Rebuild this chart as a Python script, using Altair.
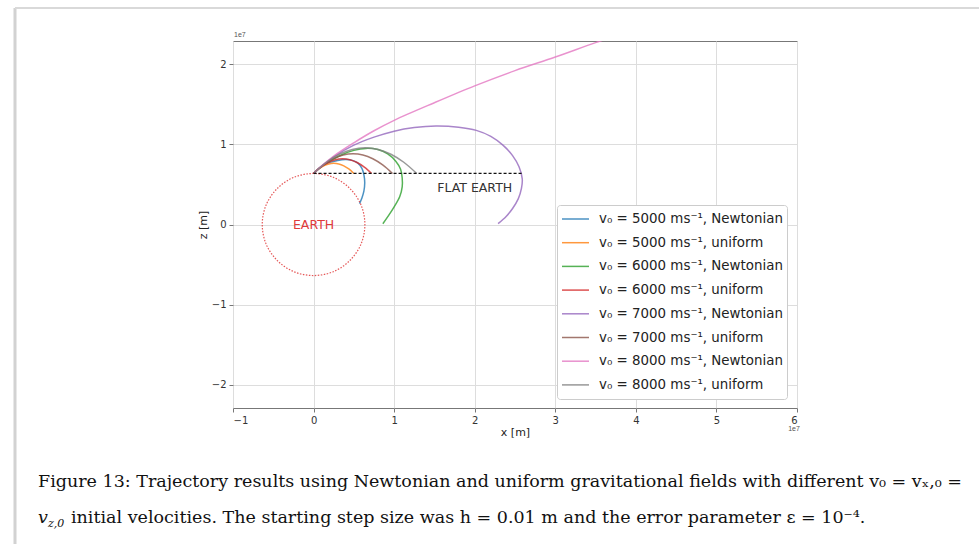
import altair as alt
import pandas as pd

# ---- data (positions in units of 1e7 m) ----
labels = [
    "v₀ = 5000 ms⁻¹, Newtonian",
    "v₀ = 5000 ms⁻¹, uniform",
    "v₀ = 6000 ms⁻¹, Newtonian",
    "v₀ = 6000 ms⁻¹, uniform",
    "v₀ = 7000 ms⁻¹, Newtonian",
    "v₀ = 7000 ms⁻¹, uniform",
    "v₀ = 8000 ms⁻¹, Newtonian",
    "v₀ = 8000 ms⁻¹, uniform",
]
colors = ["#1f77b4", "#ff7f0e", "#2ca02c", "#d62728",
          "#9467bd", "#8c564b", "#e377c2", "#7f7f7f"]

n5000_x = [0, 0.1, 0.2, 0.3, 0.4, 0.48, 0.55, 0.60, 0.625, 0.635, 0.625, 0.60, 0.57]
n5000_z = [0.637, 0.725, 0.775, 0.80, 0.81, 0.80, 0.765, 0.70, 0.62, 0.52, 0.42, 0.33, 0.26]
u5000_x = [0, 0.0625, 0.125, 0.1875, 0.25, 0.3125, 0.375, 0.4375, 0.5]
u5000_z = [0.637, 0.693, 0.732, 0.756, 0.764, 0.756, 0.732, 0.693, 0.637]
n6000_x = [0, 0.1, 0.2, 0.35, 0.5, 0.65, 0.8, 0.92, 1.02, 1.08, 1.10, 1.10, 1.07, 1.0, 0.93, 0.86]
n6000_z = [0.637, 0.725, 0.79, 0.87, 0.925, 0.95, 0.935, 0.88, 0.79, 0.69, 0.58, 0.47, 0.35, 0.22, 0.11, 0.01]
u6000_x = [0, 0.09, 0.18, 0.27, 0.36, 0.45, 0.54, 0.63, 0.72]
u6000_z = [0.637, 0.717, 0.774, 0.809, 0.820, 0.809, 0.774, 0.717, 0.637]
n7000_x = [0, 0.1, 0.25, 0.5, 0.75, 1.0, 1.25, 1.52, 1.8, 2.02, 2.2, 2.35, 2.47, 2.55, 2.59,
           2.58, 2.54, 2.47, 2.39, 2.29]
n7000_z = [0.637, 0.73, 0.845, 0.99, 1.09, 1.165, 1.21, 1.23, 1.215, 1.175, 1.10, 0.99, 0.86,
           0.72, 0.57, 0.45, 0.32, 0.20, 0.10, 0.01]
u7000_x = [0, 0.1225, 0.245, 0.3675, 0.49, 0.6125, 0.735, 0.8575, 0.98]
u7000_z = [0.637, 0.744, 0.821, 0.867, 0.882, 0.867, 0.821, 0.744, 0.637]
n8000_x = [0, 0.1, 0.25, 0.5, 0.75, 1.0, 1.5, 2.0, 2.5, 3.0, 3.5, 3.8]
n8000_z = [0.637, 0.732, 0.855, 1.02, 1.17, 1.30, 1.52, 1.73, 1.92, 2.09, 2.27, 2.37]
u8000_x = [0, 0.16, 0.32, 0.48, 0.64, 0.80, 0.96, 1.12, 1.28]
u8000_z = [0.637, 0.777, 0.877, 0.937, 0.957, 0.937, 0.877, 0.777, 0.637]

earth_x = [0.637, 0.589, 0.450, 0.244, 0, -0.244, -0.450, -0.589,
           -0.637, -0.589, -0.450, -0.244, 0, 0.244, 0.450, 0.589]
earth_z = [0, 0.244, 0.450, 0.589, 0.637, 0.589, 0.450, 0.244,
           0, -0.244, -0.450, -0.589, -0.637, -0.589, -0.450, -0.244]

flat_x = [0, 2.59]
flat_z = [0.637, 0.637]

x_ticks = [-1, 0, 1, 2, 3, 4, 5, 6]
y_ticks = [-2, -1, 0, 1, 2]

caption1 = ("Figure 13: Trajectory results using Newtonian and uniform gravitational "
            "fields with different v₀ = vₓ,₀ =")
caption2_a = "v"
caption2_b = "z,0"
caption2_c = ("initial velocities. The starting step size was h = 0.01 m and the error "
              "parameter ε = 10⁻⁴.")

# ---- build tables ----
series_xy = [(n5000_x, n5000_z), (u5000_x, u5000_z), (n6000_x, n6000_z), (u6000_x, u6000_z),
             (n7000_x, n7000_z), (u7000_x, u7000_z), (n8000_x, n8000_z), (u8000_x, u8000_z)]
rows = []
for lab, (xs_, zs_) in zip(labels, series_xy):
    for i, (a, b) in enumerate(zip(xs_, zs_)):
        rows.append({"series": lab, "i": i, "x": a, "z": b})
traj = pd.DataFrame(rows)
earth = pd.DataFrame({"x": earth_x, "z": earth_z, "i": range(len(earth_x))})
flat = pd.DataFrame({"x": flat_x, "z": flat_z})
notes = pd.DataFrame({"x": [0.0, 2.0], "z": [0.0, 0.45], "t": ["EARTH", "FLAT EARTH"],
                      "c": ["#e03a3a", "#333333"]})

X_DOM = [-1, 6]
Y_DOM = [-2.29, 2.29]
minus_expr = "datum.value < 0 ? '\u2212' + abs(datum.value) : '' + datum.value"

xs = alt.X("x:Q", scale=alt.Scale(domain=X_DOM, nice=False, zero=False),
           axis=alt.Axis(values=x_ticks, labelExpr=minus_expr, title="x [m]"))
ys = alt.Y("z:Q", scale=alt.Scale(domain=Y_DOM, nice=False, zero=False),
           axis=alt.Axis(values=y_ticks, labelExpr=minus_expr, title="z [m]"))

lines = alt.Chart(traj).mark_line(
    interpolate="catmull-rom", strokeWidth=1.5, opacity=0.8, clip=True
).encode(
    x=xs, y=ys,
    order="i:Q",
    color=alt.Color(
        "series:N",
        scale=alt.Scale(domain=labels, range=colors),
        sort=labels,
        legend=alt.Legend(
            title=None, orient="none", legendX=324, legendY=164, direction="vertical",
            labelFontSize=13.4, labelFont="DejaVu Sans", labelColor="#222222",
            symbolType="stroke", symbolSize=729, symbolStrokeWidth=1.5, symbolOpacity=0.8,
            fillColor="white", strokeColor="#cccccc", padding=4, cornerRadius=3,
            clipHeight=20, rowPadding=3.7, labelOffset=9, labelLimit=400,
        ),
    ),
)

earth_line = alt.Chart(earth).mark_line(
    interpolate="cardinal-closed", color="#e03a3a", strokeWidth=1.2,
    strokeDash=[1.5, 1.5], opacity=0.85
).encode(x="x:Q", y="z:Q", order="i:Q")

flat_line = alt.Chart(flat).mark_line(
    color="#111111", strokeWidth=1.3, strokeDash=[3, 2]
).encode(x="x:Q", y="z:Q")

note_text = alt.Chart(notes).mark_text(fontSize=12.5, font="DejaVu Sans").encode(
    x="x:Q", y="z:Q", text="t:N", color=alt.Color("c:N", scale=None)
)

one = pd.DataFrame({"k": [0]})
deco = alt.Chart(one)
off_top = deco.mark_text(text="1e7", fontSize=7, color="#555555", align="left",
                         baseline="bottom").encode(x=alt.value(1), y=alt.value(-3))
off_bot = deco.mark_text(text="1e7", fontSize=7, color="#555555", align="center",
                         baseline="middle").encode(x=alt.value(561), y=alt.value(388))
page_left = deco.mark_rule(color="#d2d2d2", strokeWidth=3).encode(
    x=alt.value(-218), y=alt.value(-33), y2=alt.value(503))
page_top = deco.mark_rule(color="#d9d9d9", strokeWidth=2).encode(
    x=alt.value(-218), x2=alt.value(746), y=alt.value(-33))

cap_font = "DejaVu Serif"
cap1 = deco.mark_text(text=caption1, font=cap_font, fontSize=17.5, align="left",
                      baseline="alphabetic", color="#111111").encode(
    x=alt.value(-195), y=alt.value(446))
cap2a = deco.mark_text(text=caption2_a, font=cap_font, fontSize=17.5, fontStyle="italic",
                       align="left", baseline="alphabetic", color="#111111").encode(
    x=alt.value(-195), y=alt.value(482))
cap2b = deco.mark_text(text=caption2_b, font=cap_font, fontSize=11, fontStyle="italic",
                       align="left", baseline="alphabetic", color="#111111").encode(
    x=alt.value(-185), y=alt.value(486))
cap2c = deco.mark_text(text=caption2_c, font=cap_font, fontSize=17.5, align="left",
                       baseline="alphabetic", color="#111111").encode(
    x=alt.value(-162), y=alt.value(482))

chart = alt.layer(
    lines, earth_line, flat_line, note_text, off_top, off_bot,
    page_left, page_top, cap1, cap2a, cap2b, cap2c
).properties(
    width=564, height=367,
    autosize=alt.AutoSizeParams(type="none"),
    padding={"left": 233, "top": 41, "right": 182, "bottom": 136},
    background="white",
).configure_view(
    stroke="#777777", strokeWidth=1
).configure_axis(
    grid=True, gridColor="#dddddd", gridWidth=1, domain=False,
    tickColor="#777777", tickSize=4, labelFont="DejaVu Sans", labelFontSize=10,
    labelColor="#333333", titleFont="DejaVu Sans", titleFontSize=11,
    titleFontWeight="normal", titleColor="#222222", labelPadding=3,
).configure_axisX(titlePadding=1).configure_axisY(titlePadding=3)

chart.save("out.html", embed_options={"renderer": "svg", "actions": False})
